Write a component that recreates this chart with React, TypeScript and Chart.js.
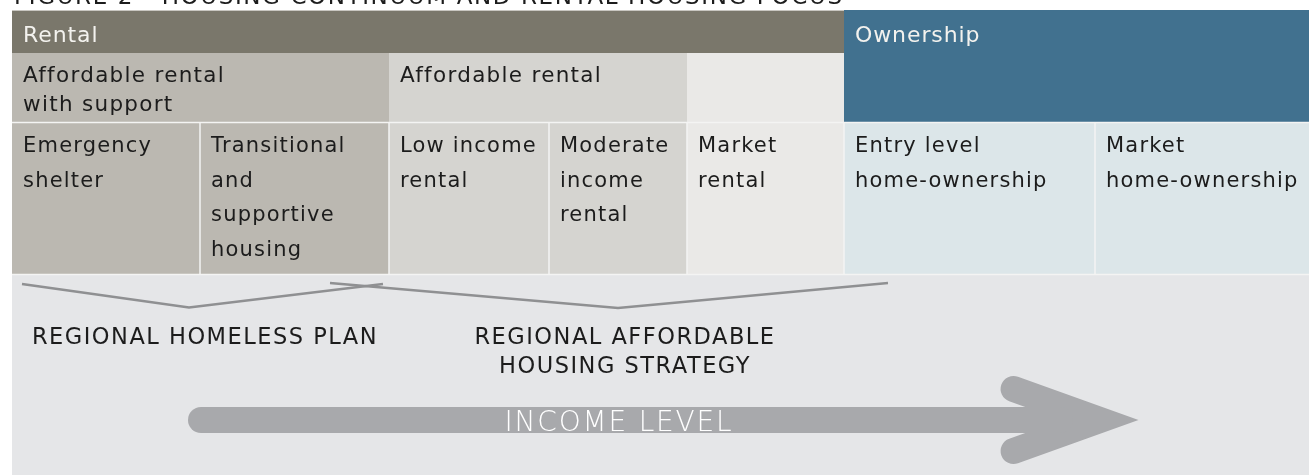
import React, { useEffect, useRef } from "react";
import { Chart, registerables } from "chart.js";

Chart.register(...registerables);

const FONT = '"DejaVu Sans", sans-serif';

// ---- Diagram data (continuum units on the x scale, depth units on the y scale) ----
const titleText = "FIGURE 2 - HOUSING CONTINUUM AND RENTAL HOUSING FOCUS";

const rowEdges = [10, 53, 122.5, 274.5, 475];

const tenureLabels = ["Rental", "Ownership"];
const tenureStart = [12, 844];
const tenureEnd = [844, 1309];
const tenureRowSpan = [1, 2];
const tenureColors = ["#7a776b", "#41718f"];

const programLabels = [["Affordable rental", "with support"], ["Affordable rental"], []];
const programStart = [12, 389, 687];
const programEnd = [389, 687, 844];
const programColors = ["#bbb8b1", "#d5d4d0", "#eae9e7"];

const housingLabels = [
  ["Emergency", "shelter"],
  ["Transitional", "and", "supportive", "housing"],
  ["Low income", "rental"],
  ["Moderate", "income", "rental"],
  ["Market", "rental"],
  ["Entry level", "home-ownership"],
  ["Market", "home-ownership"],
];
const housingEdges = [12, 200, 389, 549, 687, 844, 1095, 1309];
const housingColors = ["#bbb8b1", "#bbb8b1", "#d5d4d0", "#d5d4d0", "#eae9e7", "#dce6e9", "#dce6e9"];

const policyLabels = [["REGIONAL HOMELESS PLAN"], ["REGIONAL AFFORDABLE", "HOUSING STRATEGY"]];
const policyFrom = [22, 330];
const policyVertex = [189, 618];
const policyTo = [383, 888];
const policyTop = [284, 283];
const policyDepth = [307.5, 308];
const policyLabelX = [205, 625];

const incomeLabel = "INCOME LEVEL";
const incomeFrom = 201;
const incomeTo = 1100;
const incomeLevelY = 420;
const arrowBarbX = 1013.6;
const arrowBarbY = [389, 451];

const bgColor = "#e5e6e8";

function setFont(ctx: any, size: number, spacing: number, weight = "normal") {
  ctx.font = `${weight} ${size}px ${FONT}`;
  try {
    ctx.letterSpacing = `${spacing}px`;
  } catch (e) {}
}

const diagramPlugin = {
  id: "continuum",
  beforeDatasetsDraw(chart: any) {
    const { ctx, scales } = chart;
    const x = (v: number) => scales.x.getPixelForValue(v);
    const y = (v: number) => scales.y.getPixelForValue(v);
    ctx.save();

    // policy / income background
    ctx.fillStyle = bgColor;
    ctx.fillRect(x(housingEdges[0]), y(rowEdges[3]), x(1309) - x(housingEdges[0]), y(rowEdges[4]) - y(rowEdges[3]));

    // tenure row
    tenureLabels.forEach((lab, i) => {
      ctx.fillStyle = tenureColors[i];
      const top = y(rowEdges[0]);
      const bot = y(rowEdges[tenureRowSpan[i]]);
      ctx.fillRect(x(tenureStart[i]), top, x(tenureEnd[i]) - x(tenureStart[i]), bot - top);
    });
    // program row
    programLabels.forEach((lab, i) => {
      ctx.fillStyle = programColors[i];
      const top = y(rowEdges[1]);
      const bot = y(rowEdges[2]);
      ctx.fillRect(x(programStart[i]), top, x(programEnd[i]) - x(programStart[i]), bot - top);
    });
    // housing row
    housingLabels.forEach((lab, i) => {
      ctx.fillStyle = housingColors[i];
      const top = y(rowEdges[2]);
      const bot = y(rowEdges[3]);
      ctx.fillRect(x(housingEdges[i]), top, x(housingEdges[i + 1]) - x(housingEdges[i]), bot - top);
    });

    // separators
    ctx.strokeStyle = "#f4f4f3";
    ctx.lineWidth = 1.5;
    ctx.beginPath();
    for (let i = 1; i < housingEdges.length - 1; i++) {
      ctx.moveTo(x(housingEdges[i]), y(rowEdges[2]));
      ctx.lineTo(x(housingEdges[i]), y(rowEdges[3]));
    }
    [rowEdges[2], rowEdges[3]].forEach((r) => {
      ctx.moveTo(x(housingEdges[0]), y(r));
      ctx.lineTo(x(1309), y(r));
    });
    ctx.stroke();
    ctx.strokeStyle = "#c9c7c1";
    ctx.lineWidth = 1;
    ctx.beginPath();
    ctx.moveTo(x(tenureStart[0]), y(rowEdges[0]) + 0.5);
    ctx.lineTo(x(tenureEnd[0]), y(rowEdges[0]) + 0.5);
    ctx.stroke();

    // texts
    ctx.textBaseline = "alphabetic";
    ctx.textAlign = "left";
    setFont(ctx, 22, 0.9);
    tenureLabels.forEach((lab, i) => {
      ctx.fillStyle = "#f3f2ee";
      ctx.fillText(lab, x(tenureStart[i]) + 11, y(rowEdges[0]) + 32);
    });
    ctx.fillStyle = "#1c1c1c";
    setFont(ctx, 21.5, 1.3);
    programLabels.forEach((lines, i) => {
      lines.forEach((ln, k) => {
        ctx.fillText(ln, x(programStart[i]) + 11, y(rowEdges[1]) + 29 + k * 29);
      });
    });
    setFont(ctx, 21, 1.2);
    housingLabels.forEach((lines, i) => {
      lines.forEach((ln, k) => {
        ctx.fillText(ln, x(housingEdges[i]) + 11, y(rowEdges[2]) + 29.5 + k * 34.5);
      });
    });

    // title (cut off at top)
    ctx.fillStyle = "#1c1c1c";
    setFont(ctx, 23, 1.6);
    ctx.fillText(titleText, x(14), y(3.5));

    // policy labels
    ctx.textAlign = "center";
    setFont(ctx, 22.5, 1.5);
    policyLabels.forEach((lines, i) => {
      lines.forEach((ln, k) => {
        ctx.fillText(ln, x(policyLabelX[i]), y(344 + k * 29));
      });
    });
    ctx.restore();
  },
  afterDatasetsDraw(chart: any) {
    const { ctx, scales } = chart;
    ctx.save();
    ctx.fillStyle = "#ffffff";
    setFont(ctx, 28, 1.8, "200");
    ctx.textAlign = "center";
    ctx.textBaseline = "alphabetic";
    ctx.fillText(incomeLabel, scales.x.getPixelForValue(619), scales.y.getPixelForValue(incomeLevelY + 11));
    ctx.restore();
  },
};

export default function App() {
  const ref = useRef<HTMLCanvasElement>(null);
  useEffect(() => {
    if (!ref.current) return;
    const braceSets = policyLabels.map((_, i) => ({
      label: "brace" + i,
      data: [
        { x: policyFrom[i], y: policyTop[i] },
        { x: policyVertex[i], y: policyDepth[i] },
        { x: policyTo[i], y: policyTop[i] },
      ],
      showLine: true,
      borderColor: "#8f9092",
      borderWidth: 2.5,
      pointRadius: 0,
      tension: 0,
      fill: false,
    }));
    const chart = new Chart(ref.current, {
      type: "scatter",
      data: {
        datasets: [
          ...braceSets,
          {
            label: "shaft",
            data: [
              { x: incomeFrom, y: incomeLevelY },
              { x: incomeTo - 40, y: incomeLevelY },
            ],
            showLine: true,
            borderColor: "#a8a9ac",
            borderWidth: 26,
            borderCapStyle: "round",
            pointRadius: 0,
            tension: 0,
            fill: false,
          },
          {
            label: "head",
            data: [
              { x: arrowBarbX, y: arrowBarbY[0] },
              { x: incomeTo, y: incomeLevelY },
              { x: arrowBarbX, y: arrowBarbY[1] },
            ],
            showLine: true,
            borderColor: "#a8a9ac",
            borderWidth: 26,
            borderCapStyle: "round",
            borderJoinStyle: "miter",
            pointRadius: 0,
            tension: 0,
            fill: false,
          },
        ] as any,
      },
      options: {
        animation: false,
        responsive: true,
        maintainAspectRatio: false,
        layout: { padding: 0 },
        plugins: { legend: { display: false }, tooltip: { enabled: false }, title: { display: false } },
        scales: {
          x: { type: "linear", min: 0, max: 1309, display: false },
          y: { type: "linear", min: 0, max: 475, reverse: true, display: false },
        },
      },
      plugins: [diagramPlugin],
    });
    return () => chart.destroy();
  }, []);
  return (
    <div style={{ position: "fixed", left: 0, top: 0, width: 1309, height: 475, background: "#ffffff" }}>
      <canvas ref={ref} />
    </div>
  );
}
